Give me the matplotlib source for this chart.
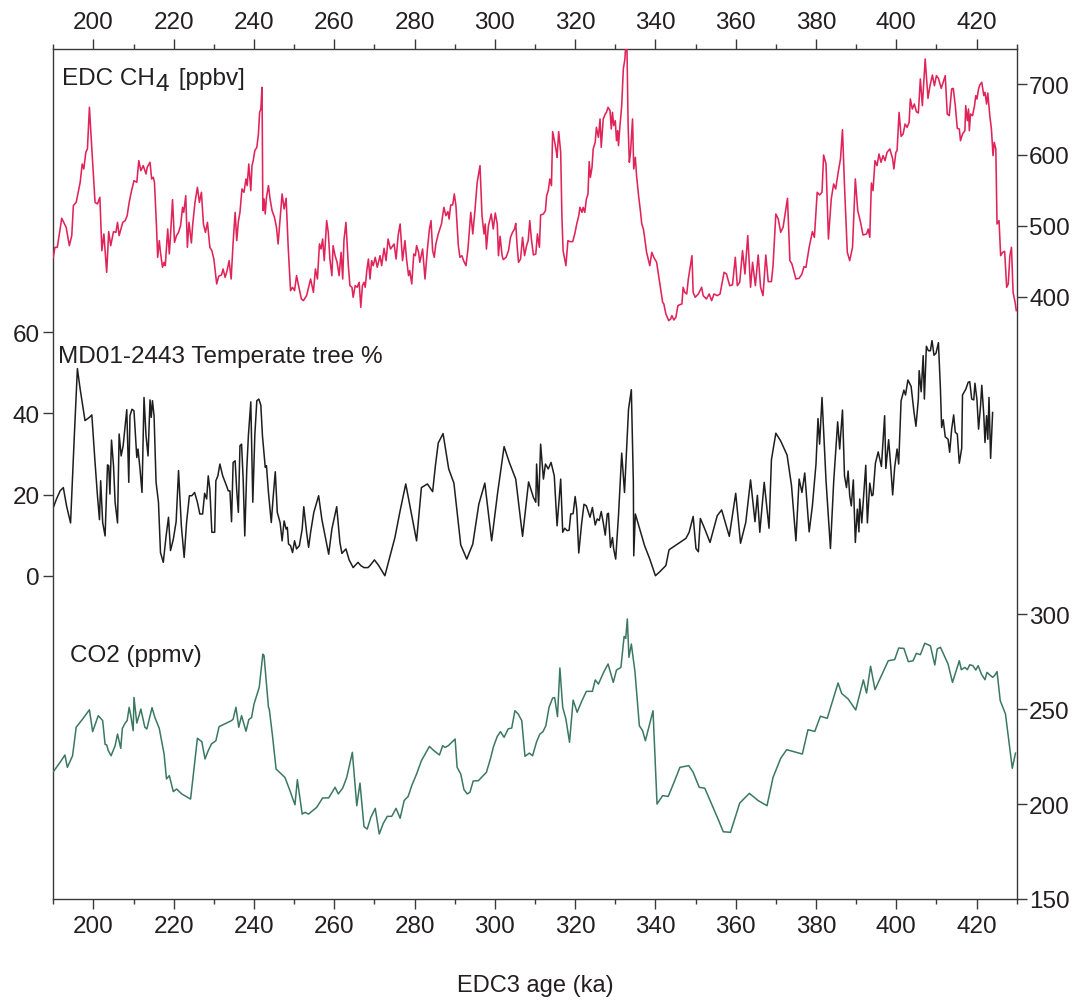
import matplotlib
matplotlib.use('Agg')
import matplotlib.pyplot as plt
from matplotlib.ticker import MultipleLocator

plt.rcParams['font.family'] = ['Liberation Sans', 'DejaVu Sans']

# ---------------- data ----------------
ch4_age = [
    190.0,190.4,191.0,192.1,193.2,194.0,194.6,195.0,195.7,196.7,
    197.2,197.6,198.1,198.5,199.0,199.6,200.4,201.0,201.6,202.1,
    202.6,203.3,203.8,204.3,205.0,205.6,206.0,206.4,207.3,207.9,
    208.4,208.9,209.5,210.1,210.8,211.3,211.8,212.4,213.1,213.4,
    214.1,214.5,214.9,215.2,215.7,216.0,216.4,216.7,217.2,217.6,
    217.9,218.5,218.9,219.2,219.7,220.2,220.7,221.2,221.7,222.2,
    222.5,223.0,223.4,223.8,224.4,224.7,225.3,225.9,226.4,226.9,
    227.4,227.9,228.4,229.0,229.5,230.0,230.7,231.2,231.9,232.3,
    232.8,233.3,233.8,234.3,234.8,235.3,235.7,236.1,236.5,237.0,
    237.5,238.0,238.3,238.7,239.2,239.5,239.8,240.2,240.7,241.1,
    241.4,241.7,242.0,242.2,242.5,242.8,243.1,243.6,244.0,244.5,
    245.1,245.6,246.0,246.5,247.0,247.5,248.0,248.5,249.1,249.6,
    250.1,250.6,251.1,251.8,252.3,253.1,253.6,254.1,254.8,255.3,
    255.8,256.3,256.7,257.1,257.5,258.1,258.5,258.9,259.4,259.7,
    260.2,260.7,261.2,261.7,262.1,262.4,262.9,263.5,263.9,264.4,
    264.7,265.2,265.7,266.2,266.6,267.0,267.4,267.7,268.1,268.5,
    268.9,269.3,269.7,270.2,270.7,271.4,271.8,272.4,272.9,273.4,
    274.0,274.9,275.4,275.9,276.4,277.0,277.6,278.0,278.5,278.8,
    279.3,279.8,280.2,280.5,281.0,281.3,282.0,282.6,283.2,283.7,
    284.1,284.5,284.9,285.3,285.9,286.7,287.3,287.8,288.3,288.6,
    289.0,289.5,289.9,290.3,290.9,291.3,291.8,292.2,292.8,293.3,
    294.0,294.5,295.0,295.6,296.3,296.8,297.3,297.6,297.9,298.4,
    299.1,299.6,300.1,300.6,300.9,301.3,301.8,302.1,302.8,303.4,
    303.9,304.4,304.9,305.2,305.6,305.9,306.4,306.9,307.4,307.9,
    308.3,308.7,309.1,309.6,310.2,310.6,311.1,311.4,312.1,312.6,
    312.9,313.3,313.7,314.1,314.4,315.0,315.4,315.5,315.9,316.4,
    316.7,317.0,317.7,318.2,318.7,319.4,319.9,320.4,320.9,321.2,
    321.7,322.0,322.4,322.8,323.2,323.5,323.8,324.2,324.5,325.0,
    325.3,325.8,326.2,326.5,327.0,327.5,327.8,328.2,328.7,329.0,
    329.3,329.6,330.0,330.3,330.6,330.8,331.1,331.6,332.0,332.4,
    332.6,332.9,333.2,333.5,333.8,334.3,334.6,335.0,335.3,335.8,
    336.3,336.6,337.0,337.3,337.8,338.3,338.6,339.1,339.6,340.3,
    340.8,341.3,341.8,342.1,342.6,343.3,343.8,344.1,344.6,345.1,
    345.6,346.1,346.6,346.9,347.3,347.8,348.2,348.7,349.1,349.4,
    349.9,350.7,351.5,351.9,352.7,353.4,354.0,354.6,355.4,356.1,
    357.1,357.7,358.5,359.2,359.9,360.4,361.0,361.7,362.3,363.0,
    363.7,364.2,364.9,365.6,366.2,366.8,367.5,368.1,368.9,369.3,
    370.0,370.6,371.2,371.8,372.9,373.5,374.0,375.0,375.8,376.5,
    377.0,377.5,378.3,379.1,379.6,380.3,380.9,381.5,381.9,382.5,
    383.1,383.8,384.4,384.9,385.6,386.1,386.6,387.1,387.8,388.4,
    389.1,389.8,390.4,391.1,391.7,392.6,393.0,393.4,393.8,394.2,
    394.7,395.2,395.7,396.2,396.7,397.2,397.7,398.4,399.1,399.4,
    399.9,400.2,400.7,401.2,401.7,402.2,402.7,403.2,403.5,404.0,
    404.5,405.0,405.5,406.0,406.5,407.2,407.9,408.4,409.0,409.5,
    410.0,410.5,411.2,412.2,412.7,413.2,413.8,414.2,414.7,415.2,
    415.7,416.0,416.5,417.1,417.3,417.7,418.0,418.2,418.5,419.0,
    419.5,419.8,420.1,420.5,420.8,421.3,421.8,422.1,422.5,422.8,
    423.3,423.7,424.1,424.4,424.8,425.1,425.6,426.0,426.5,427.0,
    427.5,427.9,428.3,428.7,429.1,429.6,429.9]
ch4_ppbv = [
    455.6,469.7,469.7,510.6,497.9,472.0,486.2,528.5,533.1,561.4,
    587.2,580.2,603.7,608.4,667.1,608.4,533.1,530.8,540.2,465.0,
    488.5,434.4,491.8,472.0,491.8,490.8,504.9,486.2,504.9,507.3,
    514.3,533.1,549.6,563.7,561.4,591.9,577.8,584.9,573.1,582.5,
    589.6,566.1,568.4,561.4,500.2,455.6,479.1,462.6,441.5,448.5,
    443.8,495.5,460.3,486.2,536.9,476.7,486.2,490.8,500.2,526.1,
    519.0,542.5,469.7,504.9,475.8,500.2,533.1,554.3,533.1,547.3,
    502.6,490.8,504.9,469.7,465.0,453.2,418.0,428.8,430.7,439.1,
    427.4,436.8,450.9,425.0,476.7,519.0,479.1,505.9,519.0,552.0,
    547.3,566.1,556.7,587.2,549.6,584.9,591.9,606.0,610.7,629.5,
    660.1,664.8,695.3,521.4,537.9,516.7,540.2,556.7,537.9,521.4,
    512.0,497.9,474.4,509.6,544.9,523.8,538.8,472.0,408.6,413.3,
    408.6,429.7,415.6,396.8,394.5,401.5,413.3,425.0,406.2,439.1,
    425.0,474.4,467.3,481.4,450.9,507.3,490.8,453.2,429.7,472.0,
    457.9,448.5,429.7,462.6,425.0,479.1,504.9,443.8,415.6,413.3,
    399.2,415.6,413.3,420.3,385.1,415.6,420.3,413.3,436.8,453.2,
    425.0,450.9,443.8,455.6,441.5,457.9,443.8,468.3,450.9,481.4,
    467.3,474.4,453.2,486.2,502.6,450.9,479.1,453.2,429.7,436.8,
    418.0,460.3,457.9,472.0,462.6,448.5,467.3,425.0,467.3,495.5,
    507.3,465.0,455.6,474.4,488.5,502.6,526.1,514.3,520.0,509.6,
    529.4,529.4,544.9,528.5,472.0,455.6,457.9,450.9,443.8,467.3,
    519.0,488.5,519.0,561.4,584.9,514.3,488.5,502.6,467.3,500.2,
    516.7,495.5,518.1,502.6,457.9,485.2,457.9,452.3,455.6,465.0,
    483.8,490.8,495.5,503.5,467.3,448.5,453.2,483.8,457.9,472.0,
    479.1,507.3,481.4,458.9,460.3,488.5,469.7,515.3,516.7,521.4,
    542.5,549.6,566.1,556.7,632.8,615.4,601.3,596.6,632.8,603.7,
    514.3,465.0,443.8,479.1,477.7,477.7,488.5,502.6,514.3,526.1,
    519.0,526.1,519.0,537.9,544.9,590.5,568.4,582.5,608.4,617.8,
    638.9,624.8,650.7,610.7,650.7,657.7,660.1,667.1,662.4,636.6,
    660.1,641.3,648.3,620.1,634.2,613.1,636.6,669.5,721.2,735.3,
    755.0,755.0,641.3,589.6,603.7,650.7,580.2,596.6,570.8,542.5,
    519.0,502.6,495.5,483.8,462.6,450.9,443.8,462.6,455.6,448.5,
    429.7,411.0,392.1,389.8,375.7,366.3,368.6,373.3,367.2,371.0,
    387.4,388.8,389.8,413.3,406.2,403.9,425.0,443.8,457.9,406.2,
    399.2,403.9,413.3,401.5,396.8,403.9,394.5,403.9,401.5,403.9,
    434.4,432.1,415.6,416.6,455.6,415.6,420.3,465.0,432.1,486.2,
    413.3,448.5,415.6,458.9,413.3,401.5,458.9,421.3,421.3,443.8,
    516.7,509.6,490.8,497.9,538.8,450.9,446.2,425.0,426.0,432.1,
    442.4,441.5,469.7,491.8,483.8,547.3,543.5,547.3,599.9,587.2,
    481.4,537.9,559.0,552.0,577.8,594.3,635.6,556.7,462.6,450.9,
    469.7,566.1,521.4,505.0,487.1,488.5,495.5,483.8,560.4,549.6,
    591.9,584.9,601.3,589.6,599.0,591.9,603.7,608.4,594.3,580.2,
    603.7,606.0,660.1,626.2,629.5,643.6,638.9,646.0,678.9,664.8,
    671.8,661.0,659.1,707.1,669.5,735.3,679.8,697.7,712.7,697.7,
    711.8,708.0,693.9,711.8,657.7,655.4,693.0,693.9,669.5,637.5,
    636.6,620.1,629.5,634.2,669.5,648.3,664.8,634.2,657.7,655.4,
    669.5,683.6,678.9,693.0,698.6,702.4,683.6,688.3,671.8,687.3,
    655.4,636.6,599.0,617.8,608.4,502.6,507.3,457.9,462.6,464.0,
    413.3,418.0,457.9,469.7,406.2,392.1,380.4]

tree_age = [
    190.0,190.8,191.7,192.5,193.3,194.3,195.2,196.0,196.7,197.9,
    199.0,199.6,200.4,201.0,201.5,201.8,202.3,202.9,203.5,203.8,
    204.1,204.5,205.0,205.4,206.0,206.4,206.9,207.4,207.9,208.3,
    208.8,209.1,209.6,210.1,210.8,211.1,211.6,212.1,212.6,213.1,
    213.6,214.1,214.4,214.7,215.1,215.6,216.2,216.7,217.4,218.1,
    218.7,219.2,219.9,220.6,221.2,221.9,222.6,223.2,223.9,224.5,
    225.2,225.9,226.5,227.2,227.7,228.2,228.6,229.0,229.5,230.2,
    230.5,231.0,231.5,232.2,232.9,233.6,234.0,234.4,234.8,235.3,
    235.7,236.1,236.5,236.9,237.3,237.7,238.2,238.6,239.2,239.7,
    240.2,240.7,241.2,241.7,242.1,242.8,243.1,243.6,244.3,244.8,
    245.3,245.8,246.5,247.0,247.5,248.0,248.3,248.6,249.1,249.6,
    250.1,250.6,251.3,252.0,252.4,253.1,253.6,254.1,254.9,256.1,
    256.9,257.7,258.6,259.4,260.6,261.4,261.9,262.9,263.7,264.7,
    265.9,266.6,267.4,268.4,268.9,270.0,271.0,272.6,273.9,275.1,
    276.4,277.8,279.3,280.5,281.7,283.2,284.5,285.2,285.9,287.1,
    288.5,289.8,291.5,293.0,294.5,296.0,297.5,299.2,300.7,302.3,
    303.6,305.2,306.9,308.4,309.6,310.2,310.4,310.9,311.4,312.1,
    312.6,313.3,314.0,314.8,315.5,316.4,316.9,317.4,318.0,318.5,
    318.9,319.5,320.0,320.4,320.9,321.6,322.2,322.8,323.7,324.3,
    325.0,325.5,326.0,326.5,327.0,327.5,328.0,328.3,328.8,329.3,
    329.6,330.1,330.8,331.6,332.3,333.3,334.0,334.5,334.6,335.0,
    336.1,337.3,338.6,340.0,341.1,342.6,343.4,344.6,346.1,347.6,
    348.4,349.4,350.1,350.7,351.2,352.3,353.6,355.4,356.5,358.4,
    360.0,361.2,362.5,363.7,364.8,365.4,366.0,367.1,368.3,368.9,
    370.0,371.2,372.8,373.9,375.0,375.8,376.5,377.2,378.3,379.1,
    380.0,380.5,380.9,381.5,382.5,383.6,384.4,385.4,385.9,386.6,
    387.1,387.6,388.0,388.4,388.8,389.3,389.8,390.3,390.7,390.9,
    391.4,392.4,392.8,393.4,393.9,394.2,394.8,395.5,396.3,397.1,
    397.4,398.1,398.6,399.1,399.6,400.2,400.6,401.2,401.9,402.3,
    402.9,403.7,404.4,404.9,405.5,405.7,406.2,406.7,407.0,407.5,
    408.0,408.5,408.9,409.4,409.9,410.5,411.0,411.3,411.7,412.2,
    412.9,413.3,413.8,414.3,414.7,415.2,415.7,416.3,416.5,417.3,
    417.9,418.3,418.8,419.3,419.6,420.1,420.5,421.0,421.3,421.8,
    422.1,422.5,422.8,423.1,423.5,424.0]
tree_pct = [
    16.8,18.9,20.9,21.7,17.2,13.0,33.6,51.0,45.9,38.2,
    39.0,39.6,27.9,19.7,13.8,23.4,13.1,9.8,27.3,27.1,
    20.1,33.4,27.1,18.1,13.0,34.9,29.5,32.0,36.9,40.9,
    23.0,39.4,41.0,40.6,29.1,31.2,26.3,20.5,43.9,34.5,
    29.5,43.3,39.0,43.1,39.4,23.0,18.1,5.7,3.3,9.8,
    14.4,6.2,9.0,13.3,25.9,12.3,4.5,13.1,19.7,19.7,
    20.5,18.1,15.2,15.2,20.3,18.9,24.6,21.3,10.7,10.7,
    23.4,24.6,27.5,24.6,22.8,20.9,20.9,13.3,27.9,28.3,
    20.9,15.6,32.0,32.4,23.8,9.8,26.3,34.5,42.8,18.1,
    34.5,43.1,43.5,42.0,34.5,26.7,27.1,20.5,13.1,19.7,
    25.6,15.6,13.1,8.6,13.5,11.5,11.9,7.8,7.4,5.7,
    8.6,6.6,7.4,11.5,17.0,10.7,7.0,10.7,15.6,19.7,
    13.9,9.8,5.3,11.5,17.0,8.2,5.5,6.6,3.9,2.0,
    3.3,2.5,2.0,2.0,2.5,3.9,2.6,0.0,4.9,9.4,
    16.0,22.6,14.8,8.6,21.7,22.6,20.7,27.2,32.7,35.0,
    26.3,22.8,7.6,4.1,7.8,17.6,22.8,8.6,20.5,31.8,
    27.9,23.8,9.7,23.1,19.3,18.1,27.5,17.2,32.4,23.8,
    27.5,26.3,27.9,24.6,12.3,23.8,10.7,11.7,11.1,11.2,
    15.2,15.3,19.5,16.4,5.6,12.7,17.6,17.2,14.4,16.8,
    12.5,14.0,13.6,15.8,13.1,10.0,15.2,15.4,7.0,9.4,
    6.6,4.1,14.8,30.2,20.5,41.0,45.8,23.0,4.9,15.2,
    11.5,7.4,4.1,0.0,1.0,2.5,6.4,7.2,8.2,9.2,
    10.7,14.6,6.7,5.9,14.1,11.5,8.2,14.8,16.2,9.7,
    20.3,8.0,13.1,23.6,13.3,19.8,10.7,23.0,11.7,28.6,
    35.1,33.2,29.7,22.2,8.6,23.8,20.5,25.3,10.8,17.2,
    27.5,38.7,32.4,43.9,23.4,6.7,23.0,37.9,31.2,40.8,
    24.6,21.7,25.8,19.7,17.2,23.6,8.2,16.4,10.8,18.9,
    13.0,27.2,13.0,22.8,19.7,19.9,27.7,30.5,26.9,39.4,
    26.4,33.5,27.1,19.9,26.7,31.2,27.5,43.1,45.7,44.5,
    48.2,46.6,40.4,36.8,43.5,50.5,45.3,54.2,43.5,56.5,
    55.4,55.4,57.9,54.3,54.8,57.4,46.0,36.5,38.4,34.2,
    33.6,30.4,36.1,39.6,35.3,34.9,27.7,31.4,44.5,45.9,
    47.6,47.8,43.5,43.3,47.4,43.3,36.1,41.9,46.9,39.6,
    32.8,39.4,33.6,43.9,28.9,40.2]

co2_age = [
    190.0,190.8,191.8,192.9,193.5,194.8,195.7,197.3,199.0,199.8,
    201.2,202.3,202.9,203.3,203.7,204.4,205.4,206.0,206.8,207.2,
    207.9,208.4,208.9,209.3,209.9,210.1,210.8,211.4,211.8,212.8,
    213.3,214.6,215.3,216.4,217.6,218.2,218.9,219.9,220.7,222.0,
    224.2,225.9,227.0,227.8,228.6,229.4,230.5,231.3,234.4,234.8,
    235.5,236.2,236.9,238.0,238.7,239.4,240.0,241.3,242.2,242.5,
    243.6,243.8,244.6,245.5,247.7,248.8,250.2,250.8,252.0,252.7,
    253.6,254.6,255.6,257.1,258.6,260.2,261.0,262.1,263.1,264.5,
    265.6,266.4,267.4,268.2,269.1,270.2,271.2,272.2,273.2,274.3,
    275.4,276.4,277.4,278.4,279.3,280.5,281.7,283.7,284.8,286.2,
    287.0,287.6,288.4,290.1,290.6,291.5,292.3,293.1,293.8,294.6,
    295.9,297.9,299.0,299.6,300.6,301.4,302.3,303.3,304.2,305.0,
    305.8,306.7,307.5,308.6,309.4,310.4,311.2,312.0,312.7,313.5,
    314.4,314.9,315.6,316.2,316.9,317.7,318.6,319.5,320.5,321.7,
    322.8,324.3,325.0,325.8,327.0,328.2,329.5,330.3,331.4,332.2,
    332.6,333.0,333.4,334.0,334.9,336.0,336.8,337.5,339.4,340.4,
    341.8,343.2,344.8,346.1,348.3,349.4,350.9,352.3,354.0,355.6,
    356.9,358.7,361.0,363.4,365.6,367.8,369.3,371.2,372.7,376.6,
    378.0,379.7,381.1,382.8,385.5,386.4,388.0,389.9,391.8,392.6,
    393.6,394.7,398.0,399.6,400.6,401.9,403.0,404.2,405.0,406.0,
    407.1,408.5,409.6,410.2,411.0,412.9,414.0,415.7,416.2,417.1,
    417.7,418.3,419.1,419.8,420.4,421.2,422.1,422.6,423.3,424.0,
    424.5,425.1,425.9,427.2,428.9,429.7]
co2_ppmv = [
    217.0,219.3,222.3,225.8,219.3,225.4,240.4,244.7,249.6,238.1,
    246.5,243.9,231.4,231.1,228.1,225.4,230.7,236.8,229.3,239.8,
    242.6,243.9,250.9,246.5,238.6,256.1,242.6,246.8,250.0,240.4,
    239.5,250.7,245.6,239.8,226.3,213.2,214.9,206.5,207.9,205.3,
    202.6,234.6,232.8,223.7,228.1,231.6,233.3,240.7,243.9,244.7,
    250.9,240.4,246.5,238.3,244.4,245.6,252.6,261.4,278.9,278.1,
    250.9,250.0,236.0,218.4,214.0,207.9,199.6,212.8,194.7,195.6,
    194.7,196.5,198.2,203.2,203.2,208.8,205.3,208.4,214.0,227.2,
    199.1,211.0,188.1,186.8,193.0,197.7,184.2,189.8,193.5,193.5,
    197.7,192.5,201.8,204.0,209.7,215.8,222.8,230.3,228.1,225.8,
    230.7,229.8,230.7,234.2,219.3,215.8,207.6,205.3,206.2,212.1,
    212.3,216.7,224.6,229.8,235.6,238.1,235.1,239.5,240.0,249.1,
    247.4,243.9,225.1,226.8,225.4,232.8,236.8,238.1,241.2,250.9,
    255.8,256.0,246.0,271.6,250.9,244.7,232.5,254.7,248.3,254.4,
    259.3,259.3,265.3,263.1,268.9,273.7,264.0,270.5,271.9,288.2,
    287.2,297.4,277.2,284.2,269.7,241.2,238.6,233.3,249.1,200.0,
    204.4,204.0,212.3,219.3,220.2,216.7,208.8,208.3,200.0,192.1,
    185.4,185.1,200.5,205.6,201.8,199.1,214.0,224.0,228.6,226.3,
    239.1,238.2,246.2,245.1,263.7,258.2,255.3,249.5,265.3,258.4,
    272.5,260.2,275.4,276.0,282.1,281.9,274.9,275.4,279.3,278.6,
    284.6,283.3,273.2,281.6,282.5,273.7,264.0,275.4,270.7,271.9,
    270.7,273.3,272.8,270.5,272.8,268.4,265.4,269.3,267.9,266.7,
    267.6,269.7,254.4,247.4,218.8,226.8]

x_ticks = [200, 220, 240, 260, 280, 300, 320, 340, 360, 380, 400, 420]
tree_ticks = [0, 20, 40, 60]
ch4_ticks = [400, 500, 600, 700]
co2_ticks = [150, 200, 250, 300]

# ---------------- styling ----------------
TXT = '#231f20'
SPINE = '#3a3a3a'
FS_TICK = 17.5
FS_LAB = 17.5
FS_X = 17
CH4_COL = '#e0245a'
TREE_COL = '#1e1e1e'
CO2_COL = '#3b7862'

W, H = 1079, 1003
fig = plt.figure(figsize=(W / 100, H / 100), dpi=100)
L, R, T, B = 53.3, 1016.7, 50.0, 900.0
ax = fig.add_axes([L / W, 1 - B / H, (R - L) / W, (B - T) / H])

ax.set_xlim(190, 430)
ax.set_ylim(-79.6, 129.7)
ax.plot(tree_age, tree_pct, color=TREE_COL, lw=1.1)

ax.set_xticks(x_ticks)
ax.xaxis.set_minor_locator(MultipleLocator(10))
ax.set_yticks(tree_ticks)
ax.tick_params(axis='x', which='major', direction='out', length=7, width=1.0,
               top=True, bottom=True, labeltop=True, labelbottom=True,
               labelsize=FS_TICK, pad=4.5, color=SPINE, labelcolor=TXT)
ax.tick_params(axis='x', which='minor', direction='out', length=3.5, width=1.0,
               top=True, bottom=True, color=SPINE)
ax.tick_params(axis='y', direction='out', length=7, width=1.0, left=True,
               right=False, labelsize=FS_TICK, pad=3, color=SPINE, labelcolor=TXT)
for s in ax.spines.values():
    s.set_color(SPINE)
    s.set_linewidth(1.0)

# CH4 axis (right, upper)
ax_ch4 = ax.twinx()
ax_ch4.set_ylim(-449.5, 749.4)
ax_ch4.plot(ch4_age, ch4_ppbv, color=CH4_COL, lw=1.15)
ax_ch4.set_yticks(ch4_ticks)
ax_ch4.tick_params(axis='y', direction='out', length=7, width=1.0, right=True,
                   left=False, labelright=True, labelleft=False, labelsize=FS_TICK,
                   pad=2, color=SPINE, labelcolor=TXT)
for s in ax_ch4.spines.values():
    s.set_visible(False)

# CO2 axis (right, lower)
ax_co2 = ax.twinx()
ax_co2.set_ylim(150, 597.4)
ax_co2.plot(co2_age, co2_ppmv, color=CO2_COL, lw=1.1)
ax_co2.set_yticks(co2_ticks)
ax_co2.tick_params(axis='y', direction='out', length=7, width=1.0, right=True,
                   left=False, labelright=True, labelleft=False, labelsize=FS_TICK,
                   pad=2, color=SPINE, labelcolor=TXT)
for s in ax_co2.spines.values():
    s.set_visible(False)

# ---------------- annotations ----------------
t1 = ax.text(0.0087, 0.9588, 'EDC CH', transform=ax.transAxes, fontsize=FS_LAB,
             color=TXT, va='baseline', ha='left')
t2 = ax.annotate('4', xy=(1, 0), xycoords=t1, xytext=(1.0, -4.5),
                 textcoords='offset points', fontsize=FS_LAB, color=TXT,
                 va='bottom', ha='left')
ax.annotate(' [ppbv]', xy=(1, 0), xycoords=t2, xytext=(1.5, 4.5),
            textcoords='offset points', fontsize=FS_LAB, color=TXT,
            va='bottom', ha='left')
ax.text(0.0052, 0.6321, 'MD01-2443 Temperate tree %', transform=ax.transAxes,
        fontsize=FS_LAB, color=TXT, va='baseline', ha='left')
ax.text(0.0173, 0.2804, 'CO2 (ppmv)', transform=ax.transAxes,
        fontsize=FS_LAB, color=TXT, va='baseline', ha='left')
fig.text(535.8 / W, 1 - 991.7 / H, 'EDC3 age (ka)', fontsize=FS_X, color=TXT,
         va='baseline', ha='center')

fig.savefig('out.png', dpi=100)
